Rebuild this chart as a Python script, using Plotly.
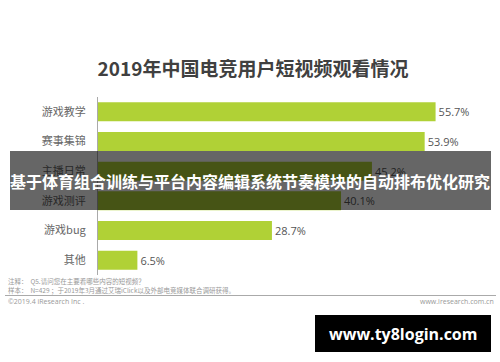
import plotly.graph_objects as go

categories = ["游戏教学", "赛事集锦", "主播日常", "游戏测评", "游戏bug", "其他"]
values = [55.7, 53.9, 45.2, 40.1, 28.7, 6.5]
value_labels = [f"{v}%" for v in values]

title_text = "2019年中国电竞用户短视频观看情况"
overlay_text = "基于体育组合训练与平台内容编辑系统节奏模块的自动排布优化研究"
note1 = "注释：  Q5.请问您在主要看哪些内容的短视频？"
note2 = "样本：  N=429 ；于2019年3月通过艾瑞iClick以及外部电竞媒体联合调研获得。"
copyright_text = "©2019.4 iResearch Inc ."
site_text = "www.iresearch.com.cn"
watermark_text = "www.ty8login.com"

W, H = 500, 362
L, R, T, B = 98, 2, 97, 87
PW, PH = W - L - R, H - T - B

def px_x(x):
    return (x - L) / PW

def px_y(y):
    return (H - B - y) / PH

cjk = "Noto Sans CJK SC"

fig = go.Figure()
fig.add_trace(go.Bar(
    y=categories, x=values, orientation="h",
    marker=dict(color="#b0d136", line=dict(width=0)),
    width=0.64,
    text=value_labels, textposition="outside",
    textfont=dict(size=11, color="#555555", family="Open Sans"),
    cliponaxis=False, hoverinfo="skip",
))

fig.update_layout(
    width=W, height=H,
    margin=dict(l=L, r=R, t=T, b=B),
    paper_bgcolor="white", plot_bgcolor="white",
    showlegend=False,
    bargap=0.36,
    title=dict(text=f"<b>{title_text}</b>", x=0.506, xref="container", xanchor="center",
               y=1 - 69 / H, yref="container", yanchor="middle",
               font=dict(family=cjk, size=19, color="#404040")),
    xaxis=dict(range=[0, 66], visible=False, fixedrange=True),
    yaxis=dict(categoryorder="array", categoryarray=categories,
               range=[5.5, -0.5], showgrid=False, zeroline=False,
               showline=True, linecolor="#aaaaaa", linewidth=1,
               ticks="", ticklabelstandoff=9,
               tickfont=dict(family=cjk, size=11, color="#666666")),
)

# dark overlay band
fig.add_shape(type="rect", xref="paper", yref="paper",
              x0=px_x(10), x1=px_x(491), y0=px_y(210), y1=px_y(151),
              fillcolor="rgba(0,0,0,0.6)", line=dict(width=0), layer="above")
fig.add_annotation(xref="paper", yref="paper", x=px_x(250), y=px_y(181),
                   text=f"<b>{overlay_text}</b>", showarrow=False,
                   xanchor="center", yanchor="middle",
                   font=dict(family=cjk, size=16, color="white"))

# footnotes
fig.add_annotation(xref="paper", yref="paper", x=px_x(6), y=px_y(280.5),
                   text=note1, showarrow=False, xanchor="left", yanchor="middle",
                   font=dict(family=cjk, size=6.5, color="#999999"))
fig.add_annotation(xref="paper", yref="paper", x=px_x(6), y=px_y(289.5),
                   text=note2, showarrow=False, xanchor="left", yanchor="middle",
                   font=dict(family=cjk, size=6.5, color="#999999"))
fig.add_shape(type="line", xref="paper", yref="paper",
              x0=px_x(5), x1=px_x(496), y0=px_y(295.5), y1=px_y(295.5),
              line=dict(color="#aaaaaa", width=1))
fig.add_annotation(xref="paper", yref="paper", x=px_x(6), y=px_y(301.5),
                   text=copyright_text, showarrow=False, xanchor="left", yanchor="middle",
                   font=dict(family="Open Sans", size=7, color="#999999"))
fig.add_annotation(xref="paper", yref="paper", x=px_x(496), y=px_y(301.5),
                   text=site_text, showarrow=False, xanchor="right", yanchor="middle",
                   font=dict(family="Open Sans", size=7, color="#999999"))

# watermark box
fig.add_shape(type="rect", xref="paper", yref="paper",
              x0=px_x(315), x1=px_x(491), y0=px_y(352), y1=px_y(315),
              fillcolor="black", line=dict(width=0), layer="above")
fig.add_annotation(xref="paper", yref="paper", x=px_x(403), y=px_y(333.5),
                   text=f"<b>{watermark_text}</b>", showarrow=False,
                   xanchor="center", yanchor="middle",
                   font=dict(family="Open Sans", size=16, color="white"))

fig.write_html("out.html")
